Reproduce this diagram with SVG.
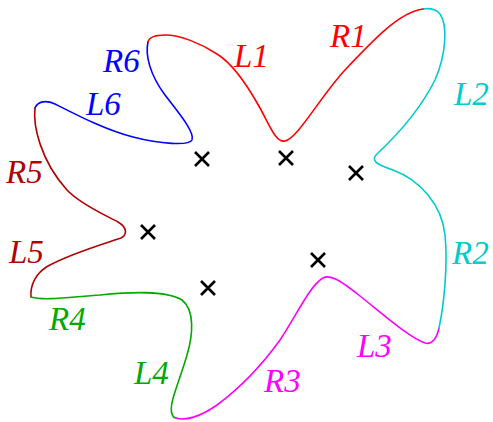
<svg xmlns="http://www.w3.org/2000/svg" width="493" height="422" viewBox="0 0 493 422">
<style>
.c{fill:none;stroke-width:1.6;stroke-linecap:round}
.t{font-family:"Liberation Serif",serif;font-style:italic;font-size:33px}
.x{stroke:#000;stroke-width:2.6;fill:none}
</style>
<rect width="493" height="422" fill="#fff"/>
<g id="connectors">
<path class="c" stroke="#0000ff" d="M148,42 C145,55 150,75 165,95 C178,112 195,132 192,140 C189,146 160,144 133,137 C105,130 75,114 55,104 C46,100 38,101 35,108"/>
<path class="c" stroke="#b00000" d="M35,108 C33,125 40,160 67,190 C80,204 105,215 118,222 C128,228 128,236 118,239 C100,245 70,254 48,266 C36,273 30,285 31,297"/>
<path class="c" stroke="#00aa00" d="M31,297 C45,301 70,297 100,295 C130,292 165,290 182,300 C195,310 193,335 187,355 C180,380 168,405 172,414 C173,417 175,418 176,418"/>
<path class="c" stroke="#ff00ff" d="M176,418 C185,421 200,417 217,405 C240,388 262,365 280,340 C295,318 310,285 323,278 C330,274 340,280 360,296 C385,316 410,338 425,343 C432,345 437,338 439,328"/>
<path class="c" stroke="#00cccc" d="M439,328 C444,305 448,265 445,235 C442,205 420,180 393,170 C375,164 370,160 378,153 C395,137 420,110 435,80 C446,55 448,25 440,14 C436,9 430,8 423,9"/>
<path class="c" stroke="#ff0000" d="M423,9 C400,12 375,38 345,70 C320,97 298,138 285,141 C276,143 270,126 260,108 C250,90 235,65 217,54 C200,43 180,35 165,35 C155,35 149,38 148,42"/>
</g>
<g id="crosses">
<path class="x" d="M195,152 l14,14 M209,152 l-14,14"/>
<path class="x" d="M279,151 l14,14 M293,151 l-14,14"/>
<path class="x" d="M349,166 l14,14 M363,166 l-14,14"/>
<path class="x" d="M141,225 l14,14 M155,225 l-14,14"/>
<path class="x" d="M201,281 l14,14 M215,281 l-14,14"/>
<path class="x" d="M311,253 l14,14 M325,253 l-14,14"/>
</g>
<g id="labels">
<text class="t" x="103" y="72" fill="#0000ff">R6</text>
<text class="t" x="86" y="115" fill="#0000ff">L6</text>
<text class="t" x="6" y="183" fill="#b00000">R5</text>
<text class="t" x="9" y="263" fill="#b00000">L5</text>
<text class="t" x="49" y="330" fill="#00aa00">R4</text>
<text class="t" x="134" y="384" fill="#00aa00">L4</text>
<text class="t" x="264" y="392" fill="#ff00ff">R3</text>
<text class="t" x="357" y="357" fill="#ff00ff">L3</text>
<text class="t" x="452" y="264" fill="#00cccc">R2</text>
<text class="t" x="454" y="105" fill="#00cccc">L2</text>
<text class="t" x="330" y="47" fill="#ff0000">R1</text>
<text class="t" x="234" y="67" fill="#ff0000">L1</text>
</g>
</svg>
